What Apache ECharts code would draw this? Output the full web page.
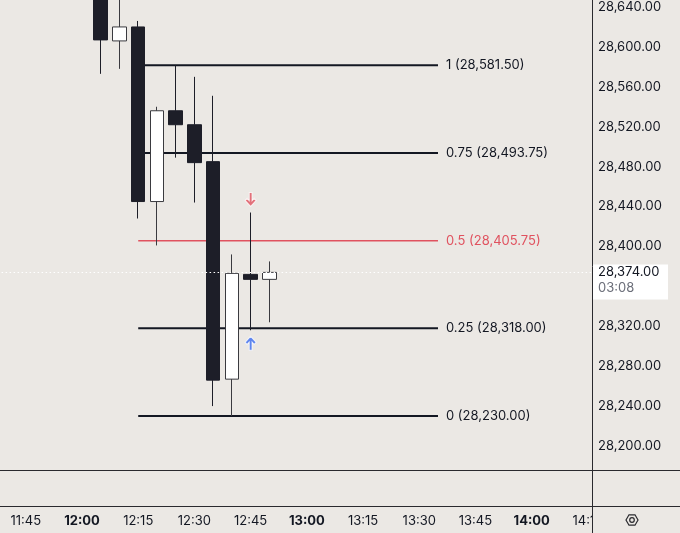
<!DOCTYPE html>
<html>
<head>
<meta charset="utf-8">
<script src="https://cdn.jsdelivr.net/npm/echarts@6/dist/echarts.min.js"></script>
<style>
html,body{margin:0;padding:0;background:#ebe8e4;}
#c{width:680px;height:533px;}
</style>
</head>
<body>
<div id="c"></div>
<script>
// ---- data ----
const candleTimes = ['12:05','12:10','12:15','12:20','12:25','12:30','12:35','12:40','12:45','12:50'];
const opens  = [28668, 28606, 28620, 28445, 28536, 28522, 28485, 28267, 28372, 28367];
const closes = [28607, 28620, 28445, 28536, 28522, 28484, 28266, 28373, 28367, 28374];
const lows   = [28573, 28578, 28428, 28401, 28489, 28444, 28240, 28230, 28316, 28324];
const highs  = [28690, 28660, 28626, 28540, 28581.5, 28570, 28551, 28392, 28434, 28385];

const fibRatios = ['1', '0.75', '0.5', '0.25', '0'];
const fibPrices = [28581.5, 28493.75, 28405.75, 28318, 28230];
const fibStart = '12:15';
const fibEnd = '13:35';

const sellSignalTime = '12:45', sellSignalPrice = 28447;
const buySignalTime = '12:45', buySignalPrice = 28303;

const lastPrice = 28374;
const countdown = '03:08';

// ---- helpers ----
const toMin = s => { const [h, m] = s.split(':').map(Number); return h * 60 + m; };
const fmtPrice = v => {
  const s = v.toFixed(2); const [i, d] = s.split('.');
  return i.replace(/\B(?=(\d{3})+(?!\d))/g, ',') + '.' + d;
};
const pad = n => (n < 10 ? '0' : '') + n;

const FONT = 'Inter, Roboto, "Noto Sans", sans-serif';
const DARK = '#131722';
const BG = '#ebe8e4';
const RED = '#e0525f';
const BLUE = '#3b6cf0';

const candleData = candleTimes.map((t, i) => [toMin(t), opens[i], closes[i], lows[i], highs[i]]);

const fibSeries = fibRatios.map((r, i) => {
  const col = r === '0.5' ? RED : DARK;
  return {
    type: 'line', z: 1, silent: true, symbol: 'none', animation: false,
    data: [[toMin(fibStart), fibPrices[i]], [toMin(fibEnd), fibPrices[i]]],
    lineStyle: { color: col, width: r === '0.5' ? 1.6 : 2 },
    endLabel: {
      show: true, distance: 8, color: col, fontFamily: FONT, fontSize: 13,
      formatter: () => r + ' (' + fmtPrice(fibPrices[i]) + ')'
    }
  };
});

const downArrow = 'path://M3.6,0 L6.4,0 L6.4,7.6 L8.6,5.4 L10.6,7.4 L5,13 L-0.6,7.4 L1.4,5.4 L3.6,7.6 Z';
const upArrow = 'path://M3.6,13 L6.4,13 L6.4,5.4 L8.6,7.6 L10.6,5.6 L5,0 L-0.6,5.6 L1.4,7.6 L3.6,5.4 Z';

const chart = echarts.init(document.getElementById('c'), null, { renderer: 'canvas' });
const option = {
  backgroundColor: BG,
  animation: false,
  grid: { left: -30.4, top: 2, width: 622.4, height: 483.9, containLabel: false, outerBoundsMode: 'none' },
  xAxis: {
    type: 'value', min: 690, max: 856.1, interval: 15,
    axisLine: { show: false }, axisTick: { show: false }, splitLine: { show: false },
    axisLabel: {
      margin: 29, fontFamily: FONT, fontSize: 13, color: DARK,
      formatter: v => {
        if (Math.abs(v % 15) > 0.01) return '';
        const h = Math.floor(v / 60), m = Math.round(v % 60);
        const s = h + ':' + pad(m);
        return m === 0 ? '{b|' + s + '}' : s;
      },
      rich: { b: { fontWeight: 'bold', fontFamily: FONT, fontSize: 13, color: DARK } }
    }
  },
  yAxis: {
    type: 'value', position: 'right', min: 28160, max: 28645, interval: 40,
    axisLine: { show: false }, axisTick: { show: false }, splitLine: { show: false },
    axisLabel: {
      margin: 6, align: 'left', fontFamily: FONT, fontSize: 13, color: DARK,
      formatter: v => (Math.abs(v % 40) > 0.01 ? '' : fmtPrice(v))
    }
  },
  series: [
    ...fibSeries,
    {
      type: 'candlestick', z: 3, barWidth: 14,
      data: candleData,
      encode: { x: 0, y: [1, 2, 3, 4] },
      itemStyle: {
        color: '#ffffff', color0: '#1d1e28',
        borderColor: '#3a3a3f', borderColor0: '#1d1e28', borderWidth: 1
      },
      markLine: {
        silent: true, symbol: ['none', 'none'], animation: false,
        label: { show: false },
        lineStyle: { color: '#ffffff', type: [1.5, 2.5], width: 1 },
        data: [{ yAxis: lastPrice }]
      }
    },
    {
      type: 'scatter', z: 4, silent: true,
      data: [[toMin(sellSignalTime), sellSignalPrice]],
      symbol: downArrow, symbolSize: [11, 14],
      itemStyle: { color: RED, borderColor: '#ffffff', borderWidth: 1 }
    },
    {
      type: 'scatter', z: 4, silent: true,
      data: [[toMin(buySignalTime), buySignalPrice]],
      symbol: upArrow, symbolSize: [11, 14],
      itemStyle: { color: BLUE, borderColor: '#ffffff', borderWidth: 1 }
    }
  ]
};
chart.setOption(option);

const py = chart.convertToPixel({ gridIndex: 0 }, [0, lastPrice])[1];
chart.setOption({
  graphic: [
    { type: 'rect', z: 100, shape: { x: 0, y: 470, width: 680, height: 36 }, style: { fill: BG } },
    { type: 'rect', z: 100, shape: { x: 593, y: 506, width: 87, height: 27 }, style: { fill: BG } },
    { type: 'line', z: 101, shape: { x1: 592.5, y1: 0, x2: 592.5, y2: 533 }, style: { stroke: '#2a2a2e', lineWidth: 1 } },
    { type: 'line', z: 101, shape: { x1: 0, y1: 470.5, x2: 680, y2: 470.5 }, style: { stroke: '#2a2a2e', lineWidth: 1 } },
    { type: 'line', z: 101, shape: { x1: 0, y1: 506.5, x2: 680, y2: 506.5 }, style: { stroke: '#2a2a2e', lineWidth: 1 } },
    { type: 'rect', z: 102, shape: { x: 593, y: py - 8, width: 75, height: 35 }, style: { fill: '#ffffff' } },
    { type: 'text', z: 103, x: 598, y: py, style: { text: fmtPrice(lastPrice), fill: DARK, font: '13px ' + FONT, textVerticalAlign: 'middle' } },
    { type: 'text', z: 103, x: 598, y: py + 16, style: { text: countdown, fill: '#6a6d78', font: '13px ' + FONT, textVerticalAlign: 'middle' } },
    { type: 'polygon', z: 103, shape: { points: [[626, 520], [629, 514.8], [635, 514.8], [638, 520], [635, 525.2], [629, 525.2]] }, style: { fill: 'none', stroke: '#2a2a2e', lineWidth: 1.2 } },
    { type: 'circle', z: 103, shape: { cx: 632, cy: 520, r: 2.3 }, style: { fill: 'none', stroke: '#2a2a2e', lineWidth: 1.2 } }
  ]
});
</script>
</body>
</html>
